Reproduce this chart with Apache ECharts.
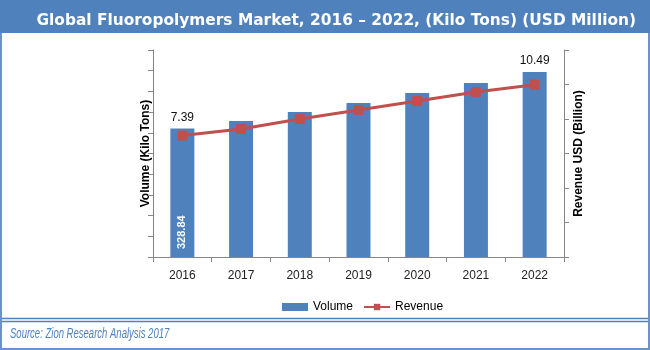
<!DOCTYPE html>
<html>
<head>
<meta charset="utf-8">
<script src="https://cdn.jsdelivr.net/npm/echarts@6/dist/echarts.min.js"></script>
<style>
html,body{margin:0;padding:0;background:#fff;}
#chart{width:650px;height:350px;}
</style>
</head>
<body>
<div id="chart"></div>
<script>
var categories = ['2016', '2017', '2018', '2019', '2020', '2021', '2022'];
var volume = [328.84, 348.2, 371.3, 394.3, 419.9, 445.5, 473.7];
var revenue = [7.39, 7.79, 8.40, 8.95, 9.50, 10.04, 10.49];
var labeledVolumeIndex = [0];
var labeledRevenueIndex = [0, 6];

var FONT = 'Liberation Sans, Arial, sans-serif';
var chart = echarts.init(document.getElementById('chart'), null, {renderer: 'canvas'});

chart.setOption({
  animation: false,
  backgroundColor: '#ffffff',
  textStyle: {fontFamily: FONT},
  graphic: [
    {type: 'rect', shape: {x: 1, y: 1, width: 648, height: 348}, style: {fill: 'none', stroke: '#6B93C8', lineWidth: 2}, z: 0},
    {type: 'rect', shape: {x: 0, y: 0, width: 650, height: 33}, style: {fill: '#4F81BD'}, z: 1},
    {type: 'line', shape: {x1: 2, y1: 318.5, x2: 648, y2: 318.5}, style: {stroke: '#4F81BD', lineWidth: 1.5}},
    {type: 'line', shape: {x1: 2, y1: 321.5, x2: 648, y2: 321.5}, style: {stroke: '#4F81BD', lineWidth: 1.5}},
    {type: 'text', x: 10, y: 327, scaleX: 0.68, style: {text: 'Source: Zion Research Analysis 2017', fill: '#4F81BD', font: 'italic 14px "Liberation Sans", sans-serif'}}
  ],
  title: {
    text: 'Global Fluoropolymers Market, 2016 \u2013 2022, (Kilo Tons) (USD Million)',
    right: 9, top: 8,
    textStyle: {color: '#ffffff', fontSize: 15.4, fontWeight: 'bold', fontFamily: '"DejaVu Sans", sans-serif'}
  },
  legend: {
    left: 277, top: 296,
    itemGap: 10,
    textStyle: {fontSize: 12, color: '#000', fontFamily: FONT},
    data: [
      {name: 'Volume', icon: 'rect', itemStyle: {color: '#4F81BD'}},
      {name: 'Revenue'}
    ],
    itemWidth: 26, itemHeight: 8
  },
  grid: {left: 153, right: 86, top: 50, bottom: 93},
  xAxis: {
    type: 'category',
    data: categories,
    axisLine: {lineStyle: {color: '#868686', width: 1}},
    axisTick: {show: true, alignWithLabel: false, length: 5, lineStyle: {color: '#868686'}},
    axisLabel: {color: '#222', fontSize: 12, margin: 13, fontFamily: FONT}
  },
  yAxis: [
    {
      type: 'value', min: 0, max: 530, interval: 53,
      name: 'Volume (Kilo Tons)', nameLocation: 'middle', nameRotate: 90, nameGap: 1,
      nameTextStyle: {color: '#000', fontWeight: 'bold', fontSize: 12, fontFamily: FONT},
      axisLine: {show: true, lineStyle: {color: '#868686'}},
      axisTick: {show: true, length: 5, lineStyle: {color: '#868686'}},
      axisLabel: {show: false},
      splitLine: {show: false}
    },
    {
      type: 'value', min: 0, max: 12.6, interval: 2.1,
      name: 'Revenue USD (Billion)', nameLocation: 'middle', nameRotate: 90, nameGap: 9,
      nameTextStyle: {color: '#000', fontWeight: 'bold', fontSize: 12, fontFamily: FONT},
      axisLine: {show: true, lineStyle: {color: '#868686'}},
      axisTick: {show: true, length: 5, lineStyle: {color: '#868686'}},
      axisLabel: {show: false},
      splitLine: {show: false}
    }
  ],
  series: [
    {
      name: 'Volume', type: 'bar', yAxisIndex: 0, data: volume, barWidth: 24,
      itemStyle: {color: '#4F81BD'},
      label: {
        show: true, position: 'insideBottom', distance: 8, rotate: 90,
        align: 'left', verticalAlign: 'middle',
        color: '#ffffff', fontWeight: 'bold', fontSize: 11, fontFamily: FONT,
        formatter: function (p) { return labeledVolumeIndex.indexOf(p.dataIndex) >= 0 ? String(volume[p.dataIndex]) : ''; }
      },
      z: 2
    },
    {
      name: 'VolumeTop', type: 'bar', yAxisIndex: 0, data: volume, barWidth: 24, barGap: '-100%',
      itemStyle: {color: 'rgba(0,0,0,0)'},
      label: {
        show: true, position: 'top', distance: 5,
        color: '#111', fontSize: 12, fontFamily: FONT,
        formatter: function (p) { return labeledRevenueIndex.indexOf(p.dataIndex) >= 0 ? revenue[p.dataIndex].toFixed(2) : ''; }
      },
      silent: true, z: 3
    },
    {
      name: 'Revenue', type: 'line', yAxisIndex: 1, data: revenue,
      symbol: 'rect', symbolSize: 10,
      lineStyle: {color: '#C0504D', width: 3},
      itemStyle: {color: '#C0504D'},
      z: 5
    }
  ]
});
</script>
</body>
</html>
